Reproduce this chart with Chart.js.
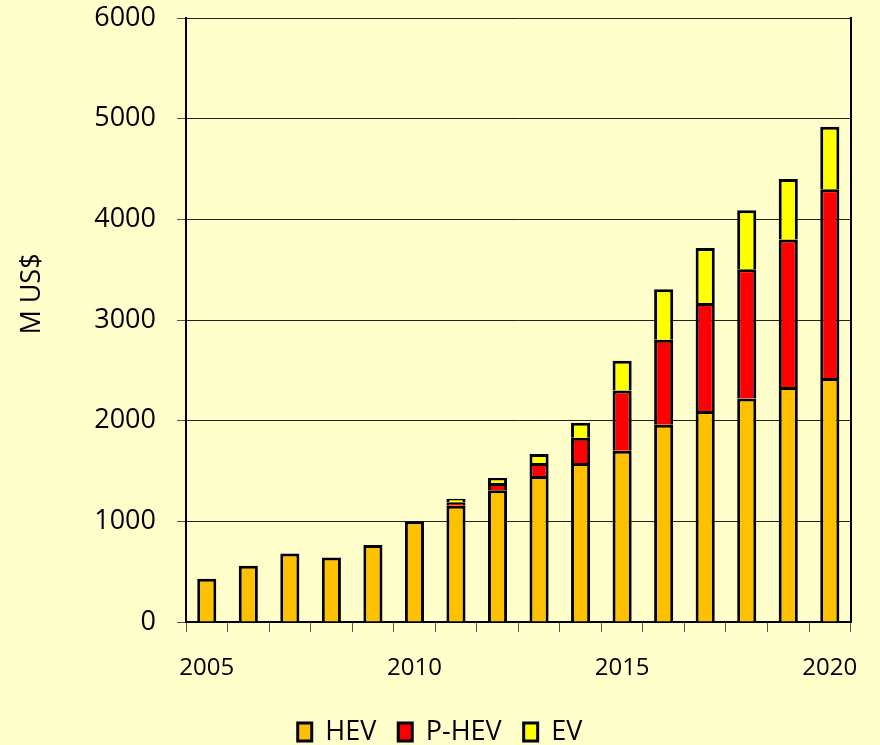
<!DOCTYPE html>
<html>
<head>
<meta charset="utf-8">
<script src="https://cdn.jsdelivr.net/npm/chart.js@4/dist/chart.umd.min.js"></script>
<style>
  html, body { margin: 0; padding: 0; background: #FFFFCC; }
  #wrap { width: 880px; height: 745px; position: relative; }
</style>
</head>
<body>
<div id="wrap"><canvas id="chart"></canvas></div>
<script>
// Market value by vehicle type, million US$
const years = ['2005','2006','2007','2008','2009','2010','2011','2012','2013','2014','2015','2016','2017','2018','2019','2020'];
const hev  = [430, 560, 680, 640, 765, 1000, 1155, 1310, 1450, 1580, 1700, 1960, 2095, 2220, 2335, 2425];
const phev = [null, null, null, null, null, null, 35, 70, 130, 250, 600, 845, 1075, 1285, 1465, 1875];
const ev   = [null, null, null, null, null, null, 35, 50, 90, 150, 295, 500, 545, 585, 600, 620];
const seriesNames = ['HEV', 'P-HEV', 'EV'];
const yMin = 0, yMax = 6000, yStep = 1000;
const axisTitle = 'M US$';

const FONT = "'Open Sans', 'DejaVu Sans', sans-serif";

const backgroundPlugin = {
  id: 'pageBackground',
  beforeDraw(chart) {
    const ctx = chart.ctx;
    ctx.save();
    ctx.fillStyle = '#FFFFCC';
    ctx.fillRect(0, 0, chart.width, chart.height);
    ctx.restore();
  }
};

// Vertical value-axis caption, placed a little above the axis midpoint
const axisTitlePlugin = {
  id: 'axisTitle',
  afterDraw(chart) {
    const ctx = chart.ctx;
    const area = chart.chartArea;
    ctx.save();
    ctx.translate(32, area.top + 276);
    ctx.rotate(-Math.PI / 2);
    ctx.font = '27px ' + FONT;
    ctx.fillStyle = '#000';
    ctx.textAlign = 'center';
    ctx.textBaseline = 'middle';
    ctx.fillText(axisTitle, 0, 0);
    ctx.restore();
  }
};

const barStyle = { borderColor: '#000', borderWidth: 3, barPercentage: 0.46, categoryPercentage: 1.0 };

new Chart(document.getElementById('chart'), {
  type: 'bar',
  data: {
    labels: years,
    datasets: [
      Object.assign({ label: seriesNames[0], data: hev,  backgroundColor: '#FFC000' }, barStyle),
      Object.assign({ label: seriesNames[1], data: phev, backgroundColor: '#FF0000' }, barStyle),
      Object.assign({ label: seriesNames[2], data: ev,   backgroundColor: '#FFFF00' }, barStyle)
    ]
  },
  options: {
    responsive: true,
    maintainAspectRatio: false,
    animation: false,
    layout: { padding: { left: 0, right: 0, top: 18, bottom: -10.5 } },
    plugins: {
      tooltip: { enabled: false },
      legend: {
        position: 'bottom',
        labels: {
          font: { family: FONT, size: 27 },
          color: '#000',
          boxWidth: 14,
          boxHeight: 18,
          padding: 22
        }
      }
    },
    scales: {
      x: {
        stacked: true,
        offset: true,
        grid: { offset: true, drawOnChartArea: false, tickLength: 10, tickColor: '#555', lineWidth: 1 },
        border: { color: '#000', width: 2 },
        ticks: {
          autoSkip: false,
          maxRotation: 0,
          padding: 22,
          color: '#000',
          font: { family: FONT, size: 24 },
          callback: function (v) {
            const lbl = this.getLabelForValue(v);
            return Number(lbl) % 5 === 0 ? lbl : '';
          }
        },
        afterFit(scale) { scale.height = 74.5; }
      },
      y: {
        stacked: true,
        min: yMin,
        max: yMax,
        grid: { color: '#222', lineWidth: 1, tickLength: 9, tickColor: '#555' },
        border: { color: '#000', width: 2 },
        ticks: {
          stepSize: yStep,
          padding: 21,
          color: '#000',
          font: { family: FONT, size: 27 },
          callback: (v) => String(v)
        },
        afterFit(scale) {
          scale.width = 186;
          scale.paddingTop = 0;
          scale.paddingBottom = 0;
        }
      },
      y2: {
        position: 'right',
        display: true,
        min: yMin,
        max: yMax,
        grid: { drawOnChartArea: false, drawTicks: false },
        border: { color: '#000', width: 2 },
        ticks: { display: false, padding: 0 },
        afterFit(scale) {
          scale.width = 24;
          scale.paddingTop = 0;
          scale.paddingBottom = 0;
        }
      }
    }
  },
  plugins: [backgroundPlugin, axisTitlePlugin]
});
</script>
</body>
</html>
